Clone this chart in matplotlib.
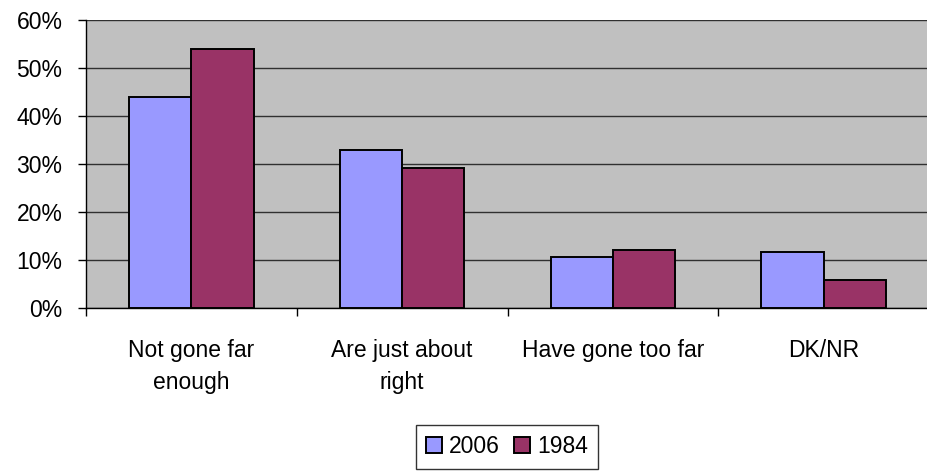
import matplotlib.pyplot as plt
import numpy as np
from matplotlib.ticker import PercentFormatter

# Дані
categories = ['Not gone far\nenough', 'Are just about\nright', 'Have gone too far', 'DK/NR']
values_2006 = [44, 33, 10.7, 11.6]
values_1984 = [54, 29.2, 12, 5.8]
series_labels = ['2006', '1984']

plt.rcParams['font.family'] = ['Liberation Sans', 'DejaVu Sans']

fig = plt.figure(figsize=(9.27, 4.73), dpi=100)
ax = fig.add_axes([86 / 927, 1 - 308 / 473, (929 - 86) / 927, (308 - 20) / 473])
ax.set_facecolor('#C0C0C0')

x = np.arange(len(categories))
w = 0.295
ax.bar(x - w / 2, values_2006, width=w, color='#9999FF', edgecolor='black', linewidth=1.4,
       label=series_labels[0], zorder=3)
ax.bar(x + w / 2, values_1984, width=w, color='#993366', edgecolor='black', linewidth=1.4,
       label=series_labels[1], zorder=3)

ax.set_xlim(-0.5, len(categories) - 0.5)
ax.set_ylim(0, 60)
ax.set_yticks(range(0, 61, 10))
ax.yaxis.set_major_formatter(PercentFormatter(decimals=0))
ax.yaxis.grid(True, color='#303030', linewidth=1, zorder=1)

# Мітки категорій між поділками
ax.set_xticks(x)
ax.set_xticklabels(categories, linespacing=1.55)
ax.set_xticks(np.arange(len(categories) + 1) - 0.5, minor=True)
ax.tick_params(axis='x', which='major', length=0, pad=22, labelsize=16.5)
ax.tick_params(axis='x', which='minor', length=6, width=1, direction='out')
ax.tick_params(axis='y', length=6, width=1, direction='out', pad=11, labelsize=16.5)

for s in ['top', 'right']:
    ax.spines[s].set_visible(False)
ax.spines['left'].set_linewidth(1)
ax.spines['bottom'].set_linewidth(1)

leg = fig.legend(loc='upper center', bbox_to_anchor=(507 / 927, 1 - 425 / 473), ncol=2,
                 fontsize=16.5, frameon=True, fancybox=False, handlelength=0.7,
                 handleheight=0.7, handletextpad=0.3, columnspacing=0.6,
                 borderpad=0.45, borderaxespad=0)
leg.get_frame().set_edgecolor('black')
leg.get_frame().set_linewidth(1)

fig.savefig('out.png', dpi=100)
